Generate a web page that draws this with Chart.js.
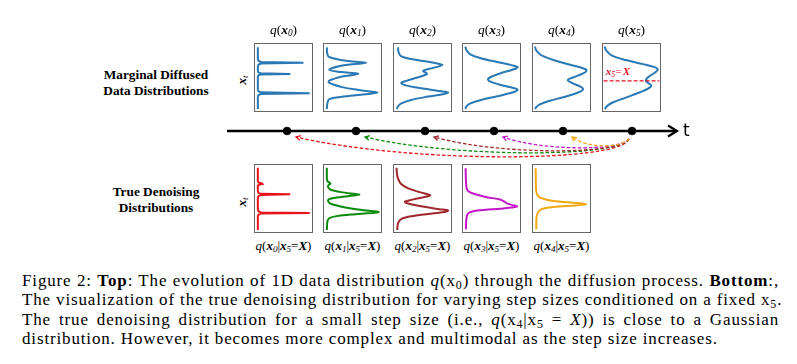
<!DOCTYPE html>
<html>
<head>
<meta charset="utf-8">
<script src="https://cdn.jsdelivr.net/npm/chart.js@4.4.1/dist/chart.umd.min.js"></script>
<style>
body { margin: 0; background: #fff; width: 797px; height: 364px; position: relative; overflow: hidden; font-family: "Liberation Serif", serif; color: #000; }
.box { position: absolute; border: 1px solid #666; width: 57px; height: 67px; }
.box canvas { display: block; }
.lbl { position: absolute; white-space: nowrap; transform: translate(-50%, -50%); }
.ttl { font-size: 13.5px; }
.sub { font-size: 13px; }
.side { font-size: 13.3px; font-weight: bold; text-align: center; line-height: 16px; }
.xt { font-size: 13px; transform: translate(-50%, -50%) rotate(-90deg); }
sub { font-size: 70%; vertical-align: -0.25em; line-height: 0; }
.cap { position: absolute; left: 22px; width: 757px; font-size: 17px; letter-spacing: 0.85px; line-height: 19.6px; text-align: justify; text-align-last: justify; white-space: nowrap; }
.cap.last { text-align: left; text-align-last: left; }
</style>
</head>
<body>
<canvas id="timeline" width="480" height="60" style="position:absolute;left:220px;top:101px"></canvas>

<div class="lbl side" style="left:156px;top:83px">Marginal Diffused<br>Data Distributions</div>
<div class="lbl side" style="left:156px;top:200px">True Denoising<br>Distributions</div>
<div class="lbl xt" style="left:242px;top:80px"><b><i>x</i></b><sub><i>t</i></sub></div>
<div class="lbl xt" style="left:242px;top:202px"><b><i>x</i></b><sub><i>t</i></sub></div>

<div class="cap" style="top:271px">Figure 2: <b>Top</b>: The evolution of 1D data distribution <i>q</i>(x<sub>0</sub>) through the diffusion process. <b>Bottom</b>:,</div>
<div class="cap" style="top:290px">The visualization of the true denoising distribution for varying step sizes conditioned on a fixed x<sub>5</sub>.</div>
<div class="cap" style="top:310px">The true denoising distribution for a small step size (i.e., <i>q</i>(x<sub>4</sub>|x<sub>5</sub> = <i>X</i>)) is close to a Gaussian</div>
<div class="cap last" style="top:329px">distribution. However, it becomes more complex and multimodal as the step size increases.</div>

<script>
// curves: [density, position from top], both 0..100 of the panel
const q0Curve = [[5,5],[5,22],[6,25],[10,26.8],[85,28],[10,29.2],[6,31],[5,34],[5,40],[6,42.5],[10,43.7],[62,44.6],[10,45.5],[6,46.8],[5,49],[5,68],[6,70.5],[10,72.2],[96,73.4],[10,74.6],[6,76.3],[5,79],[5,97]];
const q1Curve = [[5,5],[5.5,13],[8,19],[30,24],[60,26.8],[74,28],[60,29.5],[30,32.5],[9,38.6],[30,41.8],[55,43.6],[60,44.4],[50,46.2],[25,50],[8,56.5],[30,64],[60,68.5],[85,71.3],[94,72.5],[85,73.8],[55,76.5],[25,79.5],[9,82.5],[6,88],[5,97]];
const q2Curve = [[7,5],[8,12],[12,18],[30,22.5],[60,26.5],[80,29.8],[85,31],[80,33],[62,37],[51,40],[56,43],[58,44.5],[52,47],[35,51.5],[18,56],[12.5,58],[18,61],[40,65],[70,69],[90,71.3],[95,72.5],[88,74.5],[60,78.5],[30,83.5],[12,89],[7,93],[5,97]];
const q3Curve = [[4,4],[6,9],[12,15],[30,21],[60,27],[85,31.5],[96,34.6],[88,38],[65,44],[47,50],[44,53.5],[50,57],[70,62],[90,66],[96,68.3],[88,72],[60,78],[30,84],[12,89],[6,93],[4,97]];
const q4Curve = [[3.5,4],[6,10],[15,17],[40,25],[70,32],[90,37],[94,39.4],[88,44],[70,50],[61,53.8],[68,58],[82,63],[88,67.3],[80,72],[55,79],[28,85],[12,90],[6,94],[3.5,97]];
const q5Curve = [[3,4],[6,10],[15,17],[40,24],[70,30],[90,34.5],[96,37.5],[92,42],[80,49],[75,54],[78,57.5],[84,61],[82,65],[65,72],[40,80],[18,87],[8,92],[3,97]];

const d0Curve = [[5,4],[5,24],[6,26],[12,27.5],[13,28.3],[7,29.5],[5,31],[5,39],[6,41.5],[10,43],[62,43.8],[10,44.8],[6,46.5],[5,49],[5,66],[6,69],[10,70.8],[96,71.6],[10,72.5],[6,74.3],[5,77],[5,97]];
const d1Curve = [[5,4],[5,20],[6,24],[10,26.5],[11.4,28],[8,30],[7,32.5],[11,36.5],[30,40.5],[55,43.3],[62,44.2],[52,45.6],[28,48],[11,50.5],[7,53],[11,57.5],[35,63],[70,67.5],[92,69.5],[96,70.2],[88,71.3],[55,73.5],[22,76.3],[9,79.5],[6,84],[5,97]];
const d2Curve = [[4.5,4],[5,12],[7,20],[12,28],[25,35],[45,40.5],[60,44],[63.6,45],[58,47],[38,50.5],[22,53.7],[19,55],[25,57.5],[50,62],[80,66],[95,68],[88,70],[60,73],[30,76.5],[14,80],[8,85],[6,92],[5.7,97]];
const d3Curve = [[4.6,4.8],[5,20],[6.3,34.6],[10,39.5],[19,43],[42,48],[65,51.4],[73,54.8],[78,57.7],[90,60.5],[95,62],[85,63.5],[70,65],[25,68],[10,71.6],[6.3,78],[5,96]];
const d4Curve = [[4.6,4.8],[5,25],[5.7,39.4],[8,45],[13,49],[36,53.8],[76,56.7],[94,58.7],[76,60.4],[36,62.7],[14,66.3],[7.5,73],[6,80],[5.7,96]];

const topSteps = ['0', '1', '2', '3', '4', '5'];
const bottomSteps = ['0', '1', '2', '3', '4'];
const topCurves = [q0Curve, q1Curve, q2Curve, q3Curve, q4Curve, q5Curve];
const bottomCurves = [d0Curve, d1Curve, d2Curve, d3Curve, d4Curve];
const bottomColors = ['#e8141c', '#0a8a0a', '#a0282d', '#c316c8', '#f0aa14'];
const topColor = '#2a78b4';

const conditionLevel = 55;   // x5 = X line in the last top panel
const tSteps = [0, 1, 2, 3, 4, 5];
const arrowSource = 5;
const arrowTargets = [0, 1, 2, 3, 4];

const panelLefts = [254, 323, 393, 462, 532, 602];

function panelChart(left, top, curve, color, tension, extraPlugins) {
    const box = document.createElement('div');
    box.className = 'box';
    box.style.left = left + 'px';
    box.style.top = top + 'px';
    const cv = document.createElement('canvas');
    cv.width = 57; cv.height = 67;
    box.appendChild(cv);
    document.body.appendChild(box);
    return new Chart(cv, {
        type: 'scatter',
        data: {
            datasets: [{
                data: curve.map(p => ({x: p[0], y: p[1]})),
                showLine: true,
                borderColor: color,
                borderWidth: 2,
                pointRadius: 0,
                tension: tension,
            }]
        },
        options: {
            responsive: false,
            animation: false,
            events: [],
            layout: { padding: 0 },
            scales: {
                x: { type: 'linear', min: 0, max: 100, display: false },
                y: { type: 'linear', min: 0, max: 100, reverse: true, display: false },
            },
            plugins: { legend: { display: false }, tooltip: { enabled: false } },
        },
        plugins: extraPlugins || [],
    });
}

function addLabel(cls, x, y, html) {
    const el = document.createElement('div');
    el.className = 'lbl ' + cls;
    el.style.left = x + 'px';
    el.style.top = y + 'px';
    el.innerHTML = html;
    document.body.appendChild(el);
}

const conditionMark = {
    id: 'conditionMark',
    afterDatasetsDraw(chart) {
        const {ctx, scales} = chart;
        const y = scales.y.getPixelForValue(conditionLevel);
        ctx.save();
        ctx.strokeStyle = '#e01020';
        ctx.lineWidth = 1.4;
        ctx.setLineDash([4, 2]);
        ctx.beginPath();
        ctx.moveTo(scales.x.getPixelForValue(1), y);
        ctx.lineTo(scales.x.getPixelForValue(99), y);
        ctx.stroke();
        ctx.fillStyle = '#e01020';
        ctx.textBaseline = 'alphabetic';
        let x = scales.x.getPixelForValue(5);
        const by = scales.y.getPixelForValue(47);
        ctx.font = 'italic bold 11px "Liberation Serif"';
        ctx.fillText('x', x, by); x += ctx.measureText('x').width;
        ctx.font = 'italic 7.5px "Liberation Serif"';
        ctx.fillText('5', x, by + 2); x += ctx.measureText('5').width + 0.5;
        ctx.font = '11px "Liberation Serif"';
        ctx.fillText('=', x, by); x += ctx.measureText('=').width + 1;
        ctx.font = 'italic bold 11px "Liberation Serif"';
        ctx.fillText('X', x, by);
        ctx.restore();
    }
};

topCurves.forEach((c, i) => {
    panelChart(panelLefts[i], 43, c, topColor, i === 0 ? 0 : 0.35, i === 5 ? [conditionMark] : []);
    addLabel('ttl', panelLefts[i] + 29.5, 30,
        '<i>q</i>(<b><i>x</i></b><sub><i>' + topSteps[i] + '</i></sub>)');
});

bottomCurves.forEach((c, i) => {
    panelChart(panelLefts[i], 164, c, bottomColors[i], i === 0 ? 0 : 0.3);
    addLabel('sub', panelLefts[i] + 29.5, 246,
        '<i>q</i>(<b><i>x</i></b><sub><i>' + bottomSteps[i] + '</i></sub>|<b><i>x</i></b><sub><i>5</i></sub>=<b><i>X</i></b>)');
});

// time axis with the dashed denoising arrows
const timelineDecor = {
    id: 'timelineDecor',
    beforeDatasetsDraw(chart) {
        const {ctx, chartArea, scales} = chart;
        const cy = scales.y.getPixelForValue(0);
        ctx.save();
        ctx.strokeStyle = '#000';
        ctx.lineWidth = 2.5;
        ctx.beginPath();
        ctx.moveTo(chartArea.left, cy);
        ctx.lineTo(chartArea.right - 1, cy);
        ctx.stroke();
        ctx.lineWidth = 2.2;
        ctx.beginPath();
        ctx.moveTo(chartArea.right - 9, cy - 5.5);
        ctx.lineTo(chartArea.right, cy);
        ctx.lineTo(chartArea.right - 9, cy + 5.5);
        ctx.stroke();
        ctx.fillStyle = '#000';
        ctx.font = '17px "DejaVu Sans"';
        ctx.textBaseline = 'middle';
        ctx.fillText('t', chartArea.right + 6, cy + 1);

        const sags = [26, 22, 20, 17, 15];
        const xs = scales.x.getPixelForValue(arrowSource);
        arrowTargets.forEach((t, i) => {
            const xt = scales.x.getPixelForValue(t);
            const p0 = [xs - 3, cy + 8];
            const p3 = [xt + 9, cy + 6];
            const cyy = cy + sags[i] * 1.33 - 2.5;
            const c1 = [xs - 12, cyy];
            const c2 = [xt + 0.35 * (xs - xt), cyy];
            ctx.strokeStyle = bottomColors[i];
            ctx.lineWidth = 1.3;
            ctx.setLineDash([3.5, 2]);
            ctx.beginPath();
            ctx.moveTo(p0[0], p0[1]);
            ctx.bezierCurveTo(c1[0], c1[1], c2[0], c2[1], p3[0], p3[1]);
            ctx.stroke();
            ctx.setLineDash([]);
            const ang = Math.atan2(p3[1] - c2[1], p3[0] - c2[0]);
            ctx.beginPath();
            ctx.moveTo(p3[0] - 5 * Math.cos(ang - 0.5), p3[1] - 5 * Math.sin(ang - 0.5));
            ctx.lineTo(p3[0], p3[1]);
            ctx.lineTo(p3[0] - 5 * Math.cos(ang + 0.5), p3[1] - 5 * Math.sin(ang + 0.5));
            ctx.stroke();
        });
        ctx.restore();
    }
};

new Chart(document.getElementById('timeline'), {
    type: 'scatter',
    data: {
        datasets: [{
            data: tSteps.map(t => ({x: t, y: 0})),
            pointRadius: 3.8,
            pointBackgroundColor: '#000',
            pointBorderColor: '#000',
        }]
    },
    options: {
        responsive: false,
        animation: false,
        events: [],
        layout: { padding: { left: 7, right: 23, top: 0, bottom: 0 } },
        scales: {
            x: { type: 'linear', min: -0.87, max: 5.652, display: false },
            y: { type: 'linear', min: -1, max: 1, display: false },
        },
        plugins: { legend: { display: false }, tooltip: { enabled: false } },
    },
    plugins: [timelineDecor],
});
</script>
</body>
</html>
